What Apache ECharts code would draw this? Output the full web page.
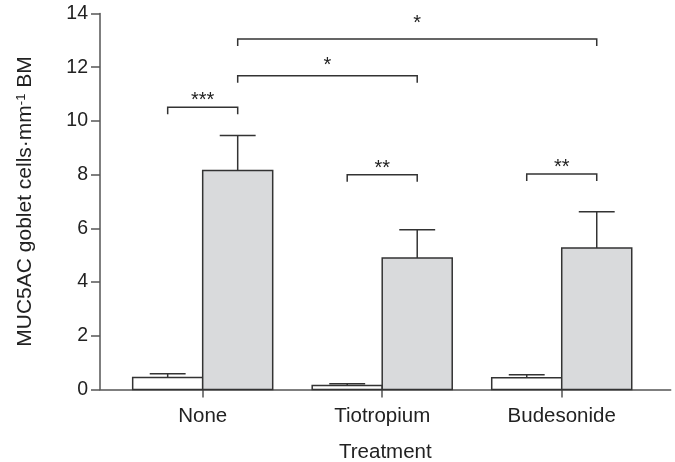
<!DOCTYPE html>
<html>
<head>
<meta charset="utf-8">
<script src="https://cdn.jsdelivr.net/npm/echarts@6/dist/echarts.min.js"></script>
<style>
html,body{margin:0;padding:0;background:#fff;}
#chart{width:675px;height:462px;}
</style>
</head>
<body>
<div id="chart"></div>
<script>
// ---- data ----
const categories = ['None', 'Tiotropium', 'Budesonide'];
const controlMean = [0.45, 0.15, 0.44];
const controlSem = [0.14, 0.06, 0.11];
const treatedMean = [8.15, 4.90, 5.27];
const treatedSem = [1.31, 1.05, 1.35];
const yTicks = [0, 2, 4, 6, 8, 10, 12, 14];
// significance brackets: from bar [category, group] to bar [category, group]
const sigLabels = ['***', '*', '*', '**', '**'];
const sigLevel = [10.51, 11.68, 13.05, 8.0, 8.02];
const sigFrom = [[0, 0], [0, 1], [0, 1], [1, 0], [2, 0]];
const sigTo = [[0, 1], [1, 1], [2, 1], [1, 1], [2, 1]];

// ---- layout constants ----
const BAR_W = 0.39;
const OFFSET = [-0.195, 0.195];
const CAP_W = 0.2;
const STAR_RAISE = [7, 10, 16, 6, 6.5]; // px above bracket line for the star text
const TEXT = '#222';
const LINE = '#333';
const FONT = 'Liberation Sans, Arial';

function barX(ci, g) { return ci + 1 + OFFSET[g]; }

const barData = [];
categories.forEach((c, i) => {
  barData.push([barX(i, 0), controlMean[i], controlSem[i], 0]);
  barData.push([barX(i, 1), treatedMean[i], treatedSem[i], 1]);
});
const sigData = sigLabels.map((l, i) => [
  barX(sigFrom[i][0], sigFrom[i][1]),
  barX(sigTo[i][0], sigTo[i][1]),
  sigLevel[i]
]);

const chart = echarts.init(document.getElementById('chart'), null, {renderer: 'canvas'});
chart.setOption({
  animation: false,
  backgroundColor: '#fff',
  grid: {left: 100, right: 4.3, top: 13.5, bottom: 72.5, containLabel: false, outerBoundsMode: 'none'},
  xAxis: {
    type: 'value', min: 0.428, max: 3.607,
    splitLine: {show: false},
    axisLine: {show: true, onZero: false, lineStyle: {color: '#555', width: 1.5}},
    axisTick: {show: true, customValues: [1, 2, 3], length: 8, lineStyle: {color: '#555', width: 1.5}},
    axisLabel: {
      customValues: [1, 2, 3],
      formatter: v => categories[Math.round(v) - 1],
      color: TEXT, fontSize: 20.5, fontFamily: FONT, margin: 16.5
    },
    name: 'Treatment', nameLocation: 'middle', nameGap: 52.5,
    nameTextStyle: {color: TEXT, fontSize: 20.5, fontFamily: FONT}
  },
  yAxis: {
    type: 'value', min: 0, max: 14, interval: 2,
    splitLine: {show: false},
    axisLine: {show: true, lineStyle: {color: '#555', width: 1.5}},
    axisTick: {show: true, length: 9, lineStyle: {color: '#555', width: 1.5}},
    axisLabel: {
      formatter: v => yTicks.includes(v) ? String(v) : '',
      color: TEXT, fontSize: 19.5, fontFamily: FONT, margin: 12
    },
    name: 'MUC5AC goblet cells·mm{sup|-1} BM', nameLocation: 'middle', nameGap: 64,
    nameTextStyle: {
      color: TEXT, fontSize: 21, fontFamily: FONT,
      rich: {sup: {fontSize: 13, color: TEXT, fontFamily: FONT, verticalAlign: 'top', padding: [0, 0, 8, 0]}}
    }
  },
  series: [
    {
      type: 'custom',
      data: barData,
      encode: {x: 0, y: 1},
      z: 2,
      renderItem: function (params, api) {
        const x = api.value(0), y = api.value(1), g = api.value(3);
        const p0 = api.coord([x - BAR_W / 2, 0]);
        const p1 = api.coord([x + BAR_W / 2, y]);
        return {
          type: 'rect',
          shape: {x: p0[0], y: p1[1], width: p1[0] - p0[0], height: p0[1] - p1[1]},
          style: {fill: g === 1 ? '#d9dadc' : '#ffffff', stroke: LINE, lineWidth: 1.5}
        };
      }
    },
    {
      type: 'custom',
      data: barData,
      encode: {x: 0, y: 1},
      z: 3,
      renderItem: function (params, api) {
        const x = api.value(0), y = api.value(1), s = api.value(2);
        const a = api.coord([x, y]);
        const b = api.coord([x, y + s]);
        const cl = api.coord([x - CAP_W / 2, y + s]);
        const cr = api.coord([x + CAP_W / 2, y + s]);
        return {
          type: 'group',
          children: [
            {type: 'line', shape: {x1: a[0], y1: a[1], x2: b[0], y2: b[1]}, style: {stroke: LINE, lineWidth: 1.5}},
            {type: 'line', shape: {x1: cl[0], y1: cl[1], x2: cr[0], y2: cr[1]}, style: {stroke: LINE, lineWidth: 1.5}}
          ]
        };
      }
    },
    {
      type: 'custom',
      data: sigData,
      encode: {x: [0, 1], y: 2},
      z: 4,
      renderItem: function (params, api) {
        const x1 = api.value(0), x2 = api.value(1), y = api.value(2);
        const a = api.coord([x1, y]);
        const b = api.coord([x2, y]);
        const leg = 7;
        return {
          type: 'group',
          children: [
            {type: 'polyline', shape: {points: [[a[0], a[1] + leg], [a[0], a[1]], [b[0], b[1]], [b[0], b[1] + leg]]},
             style: {stroke: LINE, lineWidth: 1.5, fill: null}},
            {type: 'text', x: (a[0] + b[0]) / 2, y: a[1] - STAR_RAISE[params.dataIndex],
             style: {text: sigLabels[params.dataIndex], fill: TEXT, fontSize: 20, fontFamily: FONT,
                     align: 'center', verticalAlign: 'middle'}}
          ]
        };
      }
    }
  ]
});
</script>
</body>
</html>
